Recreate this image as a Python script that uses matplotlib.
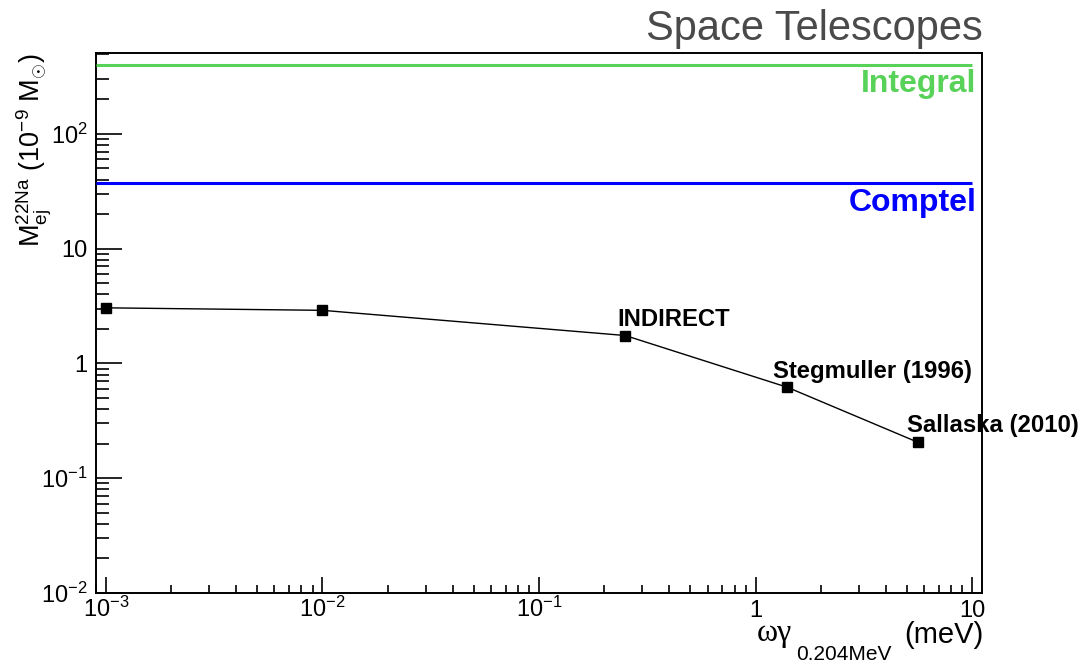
import numpy as np
import matplotlib
matplotlib.use("Agg")
import matplotlib.pyplot as plt
from matplotlib.ticker import FixedLocator, NullFormatter

plt.rcParams['font.family'] = ['Liberation Sans', 'DejaVu Sans']
plt.rcParams['mathtext.fontset'] = 'custom'
plt.rcParams['mathtext.rm'] = 'Liberation Sans'
plt.rcParams['mathtext.it'] = 'Liberation Sans'
plt.rcParams['mathtext.bf'] = 'Liberation Sans:bold'
plt.rcParams['mathtext.sf'] = 'Liberation Serif'

# resonance strength vs. ejected 22Na mass
omega_gamma = [1e-3, 1e-2, 0.25, 1.4, 5.6]
m_ej = [3.05, 2.9, 1.75, 0.62, 0.206]
point_labels = ['', '', 'INDIRECT', 'Stegmuller (1996)', 'Sallaska (2010)']
label_offsets = [(0, 0), (0, 0), (-6, 6.5), (-10, 7), (-8, 7)]

# detection limits of the space telescopes
limit_names = ['Integral', 'Comptel']
limit_values = [400, 37]
limit_colors = ['#58d258', '#0000ff']

x_ticks = [1e-3, 1e-2, 1e-1, 1, 10]
x_ticklabels = [r'$\mathregular{10^{-3}}$', r'$\mathregular{10^{-2}}$',
                r'$\mathregular{10^{-1}}$', '1', '10']
y_ticks = [1e-2, 1e-1, 1, 10, 100]
y_ticklabels = [r'$\mathregular{10^{-2}}$', r'$\mathregular{10^{-1}}$',
                '1', '10', r'$\mathregular{10^{2}}$']

W, H = 1082, 662
fig = plt.figure(figsize=(W / 100, H / 100), dpi=100)
ax = fig.add_axes([96 / W, 69 / H, 886 / W, 540 / H])

ax.set_xscale('log')
ax.set_yscale('log')
ax.set_xlim(9e-4, 11.1)
ax.set_ylim(0.01, 506)

x0 = ax.get_xlim()[0]
for name, val, col in zip(limit_names, limit_values, limit_colors):
    ax.hlines(val, x0, 10, color=col, lw=2.2, zorder=3)
    ax.annotate(name, xy=(10, val), xytext=(3, -20), textcoords='offset points',
                ha='right', va='baseline', color=col, fontsize=23,
                fontweight='bold')

ax.plot(omega_gamma, m_ej, color='black', lw=1.0, marker='s', ms=7,
        zorder=4)
for x, y, lab, off in zip(omega_gamma, m_ej, point_labels, label_offsets):
    if lab:
        ax.annotate(lab, xy=(x, y), xytext=off, textcoords='offset points',
                    ha='left', va='baseline', fontsize=17.2, fontweight='bold',
                    annotation_clip=False, zorder=5)

# ticks: ROOT-like, inward, only on left and bottom
ax.xaxis.set_major_locator(FixedLocator(x_ticks))
ax.yaxis.set_major_locator(FixedLocator(y_ticks))
ax.set_xticklabels(x_ticklabels)
ax.set_yticklabels(y_ticklabels)
ax.xaxis.set_minor_formatter(NullFormatter())
ax.yaxis.set_minor_formatter(NullFormatter())
ax.tick_params(axis='both', which='both', direction='in', width=1.2,
               labelsize=17, top=False, right=False)
ax.tick_params(axis='x', which='major', length=11.5, pad=17.5)
ax.tick_params(axis='x', which='minor', length=5.8)
ax.tick_params(axis='y', which='major', length=18.7, pad=6)
ax.tick_params(axis='y', which='minor', length=9.4)
for lbl in ax.get_xticklabels():
    lbl.set_va('baseline')
for sp in ax.spines.values():
    sp.set_linewidth(1.4)

# x title: greek part in serif, subscript dropped below the baseline
fig.text(757 / W, 1 - 641 / H, 'ωγ', family='Liberation Serif', fontsize=23,
         ha='left', va='baseline')
fig.text(796 / W, 1 - 660 / H, '0.204MeV', fontsize=15, ha='left',
         va='baseline')
fig.text(984 / W, 1 - 643 / H, '(meV)', fontsize=21, ha='right',
         va='baseline')

ax.set_ylabel(r'$\mathrm{M_{ej}^{22Na}\ (10^{-9}\ M_{\odot})}$',
              fontsize=19.5, ha='right', va='baseline')
ax.yaxis.set_label_coords(-0.063, 1.0)

fig.text(983 / W, 1 - 40 / H, 'Space Telescopes', ha='right',
         va='baseline', fontsize=30, color='#4a4a4a')

fig.savefig('out.png', dpi=100)
